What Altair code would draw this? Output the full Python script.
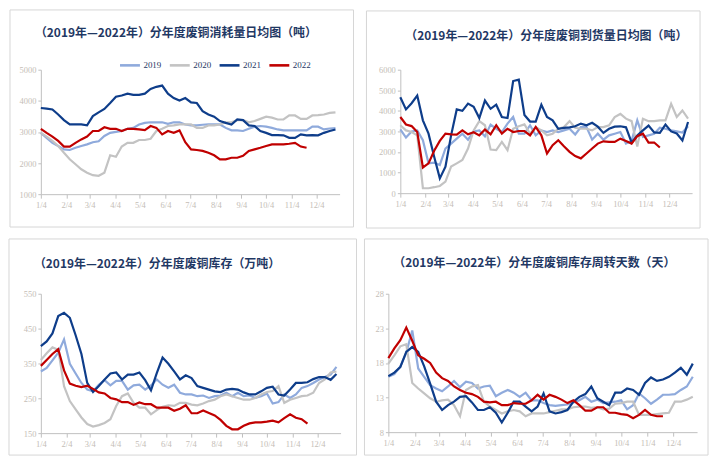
import datetime as dt
import altair as alt
import pandas as pd

YEARS = ["2019", "2020", "2021", "2022"]
COLORS = ["#8FAADC", "#C3C3C3", "#0E3D8A", "#C00000"]

WEEK_START = dt.date(2022, 1, 4)
WEEK_DATES = [(WEEK_START + dt.timedelta(days=7 * k)).isoformat() for k in range(52)]
TICK_MONTHS = list(range(1, 13))  # x labels 1/4 ... 12/4

TITLES = [
    "（2019年—2022年）分年度废铜消耗量日均图（吨）",
    "（2019年—2022年）分年度废铜到货量日均图（吨）",
    "（2019年—2022年）分年度废铜库存（万吨）",
    "（2019年—2022年）分年度废铜库存周转天数（天）",
]

# ---- panel 1: consumption (tons/day) ----
CONS_2019 = [2970, 2810, 2650, 2550, 2440, 2420, 2490, 2550, 2600, 2670, 2700, 2870, 2970, 3000, 3030, 3100, 3130, 3240, 3290, 3310, 3310, 3310, 3260, 3310, 3310, 3240,
             3210, 3210, 3230, 3240, 3240, 3240, 3130, 3050, 3050, 3030, 3100, 3170, 3190, 3170, 3130, 3080, 3050, 3050, 3050, 3050, 3050, 3170, 3170, 3080, 3110, 3120]
CONS_2020 = [2970, 2850, 2710, 2550, 2330, 2120, 1960, 1800, 1690, 1610, 1590, 1690, 2250, 2200, 2530, 2650, 2650, 2740, 2740, 2780, 3030, 3100, 3190, 3210, 3240, 3240,
             3240, 3130, 3130, 3210, 3210, 3240, 3310, 3310, 3380, 3380, 3310, 3350, 3420, 3490, 3460, 3400, 3400, 3530, 3530, 3420, 3420, 3530, 3540, 3560, 3610, 3630]
CONS_2021 = [3770, 3750, 3720, 3560, 3380, 3240, 3240, 3240, 3210, 3510, 3630, 3740, 3930, 4130, 4170, 4230, 4190, 4190, 4230, 4380, 4450, 4490, 4230, 4090, 4010, 4090,
             3950, 3930, 3670, 3560, 3490, 3350, 3290, 3240, 3400, 3380, 3210, 3190, 3030, 2970, 2900, 2900, 2890, 2810, 2810, 2920, 2890, 2900, 2890, 2970, 3030, 3080]
CONS_2022 = [3100, 2970, 2850, 2710, 2530, 2530, 2650, 2760, 2850, 3030, 3030, 3150, 3100, 3100, 3030, 3100, 3100, 3080, 3060, 3190, 3130, 2920, 3030, 2970, 3050, 2670,
             2440, 2420, 2390, 2330, 2250, 2120, 2120, 2170, 2170, 2230, 2390, 2440, 2490, 2550, 2600, 2600, 2600, 2620, 2650, 2530, 2490]

# ---- panel 2: arrivals (tons/day) ----
ARR_2019 = [3100, 2700, 3000, 3050, 2570, 1450, 1480, 1370, 2170, 2410, 2650, 2890, 2600, 3000, 3050, 2760, 3330, 3130, 2970, 3380, 3700, 2890, 2890, 3300, 2810, 3050,
            2970, 3050, 2970, 3050, 3130, 2850, 3210, 3210, 2600, 2890, 2600, 2810, 2890, 2970, 2410, 2540, 3540, 2730, 2810, 2890, 3180, 3130, 3050, 3000, 2950, 3250]
ARR_2020 = [3300, 3050, 2970, 2810, 240, 240, 290, 350, 560, 1290, 1450, 1610, 2170, 3050, 3500, 3300, 2120, 2090, 2490, 2090, 3130, 3250, 3340, 2890, 3210, 3050,
            2810, 2890, 3130, 3210, 3500, 3180, 3130, 3130, 3050, 3210, 3210, 3300, 3700, 3850, 3620, 3500, 2270, 3620, 3500, 3500, 3540, 3540, 4340, 3700, 4020, 3620]
ARR_2021 = [4660, 4070, 4370, 4740, 3540, 2890, 1770, 720, 1290, 2810, 4070, 4000, 4350, 4200, 3650, 4500, 4100, 4300, 3700, 3650, 5450, 5520, 3800, 3480, 3480, 4300,
            3700, 3540, 3130, 3170, 3200, 3250, 3380, 3300, 3420, 3230, 2930, 3130, 3230, 3250, 3200, 2460, 2800, 3050, 3280, 2950, 2930, 3330, 3000, 2900, 2560, 3460]
ARR_2022 = [3700, 3340, 3260, 2970, 1250, 1450, 2060, 2540, 2890, 2860, 2850, 3050, 2860, 2960, 2810, 3090, 2860, 3300, 2890, 3130, 2970, 3020, 3020, 2810, 3220, 2810,
            1930, 2330, 2570, 2280, 2010, 1800, 1690, 1930, 2170, 2410, 2520, 2490, 2490, 2650, 2540, 2410, 2770, 2890, 2460, 2460, 2220]

# ---- panel 3: inventory (10k tons) ----
INV_2019 = [327, 337, 359, 381, 419, 349, 321, 294, 275, 270, 289, 302, 287, 300, 300, 275, 287, 289, 275, 287, 304, 289, 280, 289, 266, 261,
            261, 256, 258, 251, 256, 258, 266, 256, 266, 256, 258, 251, 256, 264, 235, 239, 261, 251, 261, 280, 285, 294, 304, 311, 318, 340]
INV_2020 = [360, 379, 396, 389, 285, 242, 218, 195, 176, 169, 173, 179, 190, 228, 256, 264, 237, 223, 223, 204, 216, 226, 230, 228, 237, 237,
            232, 230, 235, 242, 246, 256, 261, 256, 251, 246, 246, 251, 261, 268, 271, 285, 237, 246, 251, 256, 258, 266, 294, 304, 324, 327]
INV_2021 = [400, 413, 436, 486, 495, 481, 431, 377, 294, 268, 285, 304, 321, 324, 304, 318, 318, 324, 302, 273, 322, 367, 349, 327, 304, 316,
            308, 285, 280, 275, 270, 268, 275, 277, 275, 267, 261, 261, 270, 280, 283, 261, 258, 275, 294, 294, 296, 305, 311, 311, 303, 320]
INV_2022 = [343, 360, 377, 391, 330, 292, 286, 282, 286, 277, 267, 264, 251, 247, 239, 239, 231, 238, 233, 233, 223, 223, 223, 214, 220, 230,
            207, 207, 215, 208, 201, 188, 171, 161, 161, 171, 178, 181, 181, 183, 186, 181, 193, 204, 194, 190, 177]

# ---- panel 4: inventory turnover (days) ----
DAYS_2019 = [16.0, 16.4, 17.5, 19.5, 22.7, 17.2, 16.0, 14.8, 14.3, 13.9, 14.6, 15.4, 14.5, 15.3, 15.1, 14.3, 14.6, 14.7, 13.2, 13.7, 14.1, 13.7, 13.1, 13.7, 12.6, 12.6, 12.2,
             11.9, 11.8, 11.9, 12.0, 12.3, 12.6, 13.1, 12.4, 12.7, 12.2, 12.3, 12.4, 12.6, 11.3, 11.9, 13.6, 12.9, 12.1, 12.7, 13.4, 13.4, 13.5, 14.1, 14.6, 16.0]
DAYS_2020 = [17.9, 19.1, 20.4, 20.7, 15.1, 14.3, 13.6, 12.9, 12.4, 12.6, 12.7, 11.9, 10.3, 14.1, 14.6, 14.8, 12.4, 11.7, 11.2, 10.7, 11.0, 11.2, 11.0, 10.3, 10.7, 10.7, 10.7,
             10.9, 11.1, 11.3, 11.3, 11.6, 11.7, 11.7, 11.5, 11.6, 11.3, 11.4, 12.1, 12.2, 12.4, 12.4, 10.5, 10.5, 10.5, 10.6, 10.7, 10.8, 12.4, 12.4, 12.7, 13.1]
DAYS_2021 = [16.1, 16.6, 17.4, 19.6, 20.3, 19.6, 17.5, 15.0, 12.4, 11.2, 11.9, 12.4, 13.1, 13.2, 12.3, 11.2, 11.2, 11.6, 10.8, 9.4, 10.8, 12.4, 12.4, 11.7, 11.0, 11.7, 13.6,
             11.0, 10.7, 10.9, 11.2, 12.4, 13.1, 13.5, 14.6, 12.9, 12.4, 11.9, 13.7, 13.7, 14.3, 14.1, 13.4, 15.1, 15.9, 15.4, 15.6, 16.0, 16.6, 17.3, 16.3, 17.9]
DAYS_2022 = [18.7, 20.1, 21.3, 23.1, 21.2, 19.1, 18.6, 18.0, 16.6, 15.8, 15.4, 14.6, 14.1, 13.7, 13.5, 13.1, 12.4, 12.3, 12.4, 11.9, 11.9, 12.2, 12.1, 12.1, 12.6, 13.4,
             12.7, 13.4, 13.1, 12.7, 12.2, 12.6, 11.9, 11.1, 11.1, 11.6, 11.6, 10.8, 10.8, 10.6, 10.5, 10.0, 10.5, 11.2, 10.5, 10.3, 10.3]

Y_TICKS = [
    [1000, 2000, 3000, 4000, 5000],
    [0, 1000, 2000, 3000, 4000, 5000, 6000],
    [150, 250, 350, 450, 550],
    [8, 13, 18, 23, 28],
]

TITLE_COLOR = "#1F3864"
AXIS_COLOR = "#BFBFBF"
LABEL_COLOR = "#C4BDB6"


def make_df(series):
    rows = []
    for year, vals in zip(YEARS, series):
        for d, v in zip(WEEK_DATES, vals):
            rows.append({"date": d, "year": year, "value": v})
    return pd.DataFrame(rows)


def panel(title, series, yticks, w, h, frame, tpos, lpos):
    df = make_df(series)
    x = alt.X(
        "date:T",
        scale=alt.Scale(
            type="utc",
            domain=[alt.DateTime(year=2022, month=1, date=4, utc=True),
                    alt.DateTime(year=2023, month=1, date=1, utc=True)],
        ),
        axis=alt.Axis(
            values=[alt.DateTime(year=2022, month=m, date=4, utc=True) for m in TICK_MONTHS],
            labelExpr="utcFormat(datum.value, '%-m/%-d')", title=None, grid=False,
            tickSize=4, labelPadding=2, labelFlush=False, labelOverlap=False,
        ),
    )
    y = alt.Y(
        "value:Q",
        scale=alt.Scale(domain=[yticks[0], yticks[-1]], nice=False, zero=False),
        axis=alt.Axis(values=yticks, title=None, grid=False, tickSize=3, labelPadding=2, format="d"),
    )
    color = alt.Color(
        "year:N",
        scale=alt.Scale(domain=YEARS, range=COLORS),
        legend=alt.Legend(
            title=None, orient="none", legendX=lpos[0], legendY=lpos[1],
            direction="horizontal", symbolType="stroke", symbolSize=400,
            symbolStrokeWidth=2.6, labelFont="Liberation Serif", labelFontSize=9,
            labelColor=TITLE_COLOR, labelOffset=2, columnPadding=3,
        ),
    )
    lines = alt.Chart(df).mark_line(strokeWidth=2.2).encode(x=x, y=y, color=color)

    one = pd.DataFrame({"k": [0]})
    border = alt.Chart(one).mark_rect(fillOpacity=0, stroke="#D6D6D6", strokeWidth=1).encode(
        x=alt.value(frame[0]), x2=alt.value(w + frame[1]),
        y=alt.value(frame[2]), y2=alt.value(h + frame[3]),
    )
    head = alt.Chart(one).mark_text(
        align="left", baseline="middle", font="Noto Sans CJK SC", fontSize=12,
        fontWeight="bold", color=TITLE_COLOR,
    ).encode(x=alt.value(tpos[0]), y=alt.value(tpos[1]), text=alt.value(title))
    return alt.layer(border, head, lines).properties(width=w, height=h)


p1 = panel(TITLES[0], [CONS_2019, CONS_2020, CONS_2021, CONS_2022], Y_TICKS[0],
           300, 125, (-31, 14, -60, 33), (-6, -37), (78, -16))
p2 = panel(TITLES[1], [ARR_2019, ARR_2020, ARR_2021, ARR_2022], Y_TICKS[1],
           293, 124, (-34, 8, -59, 35), (5, -34), (86, -15))
p3 = panel(TITLES[2], [INV_2019, INV_2020, INV_2021, INV_2022], Y_TICKS[2],
           301, 140, (-32, 16, -55, 22), (-7, -30), (80, -8))
p4 = panel(TITLES[3], [DAYS_2019, DAYS_2020, DAYS_2021, DAYS_2022], Y_TICKS[3],
           310, 139, (-24, 11, -55, 23), (5, -31), (101, -12))

row1 = alt.hconcat(p1, p2, spacing=61, bounds="flush")
row2 = alt.hconcat(p3, p4, spacing=48, bounds="flush")

chart = (
    alt.vconcat(row1, row2, spacing=9)
    .properties(padding=0)
    .configure_view(strokeWidth=0)
    .configure_axis(
        domainColor=AXIS_COLOR, tickColor=AXIS_COLOR, labelColor=LABEL_COLOR,
        labelFont="Liberation Serif", labelFontSize=8.5, domainWidth=1,
    )
)

chart.save("out.html", embed_options={"renderer": "svg", "actions": False})
